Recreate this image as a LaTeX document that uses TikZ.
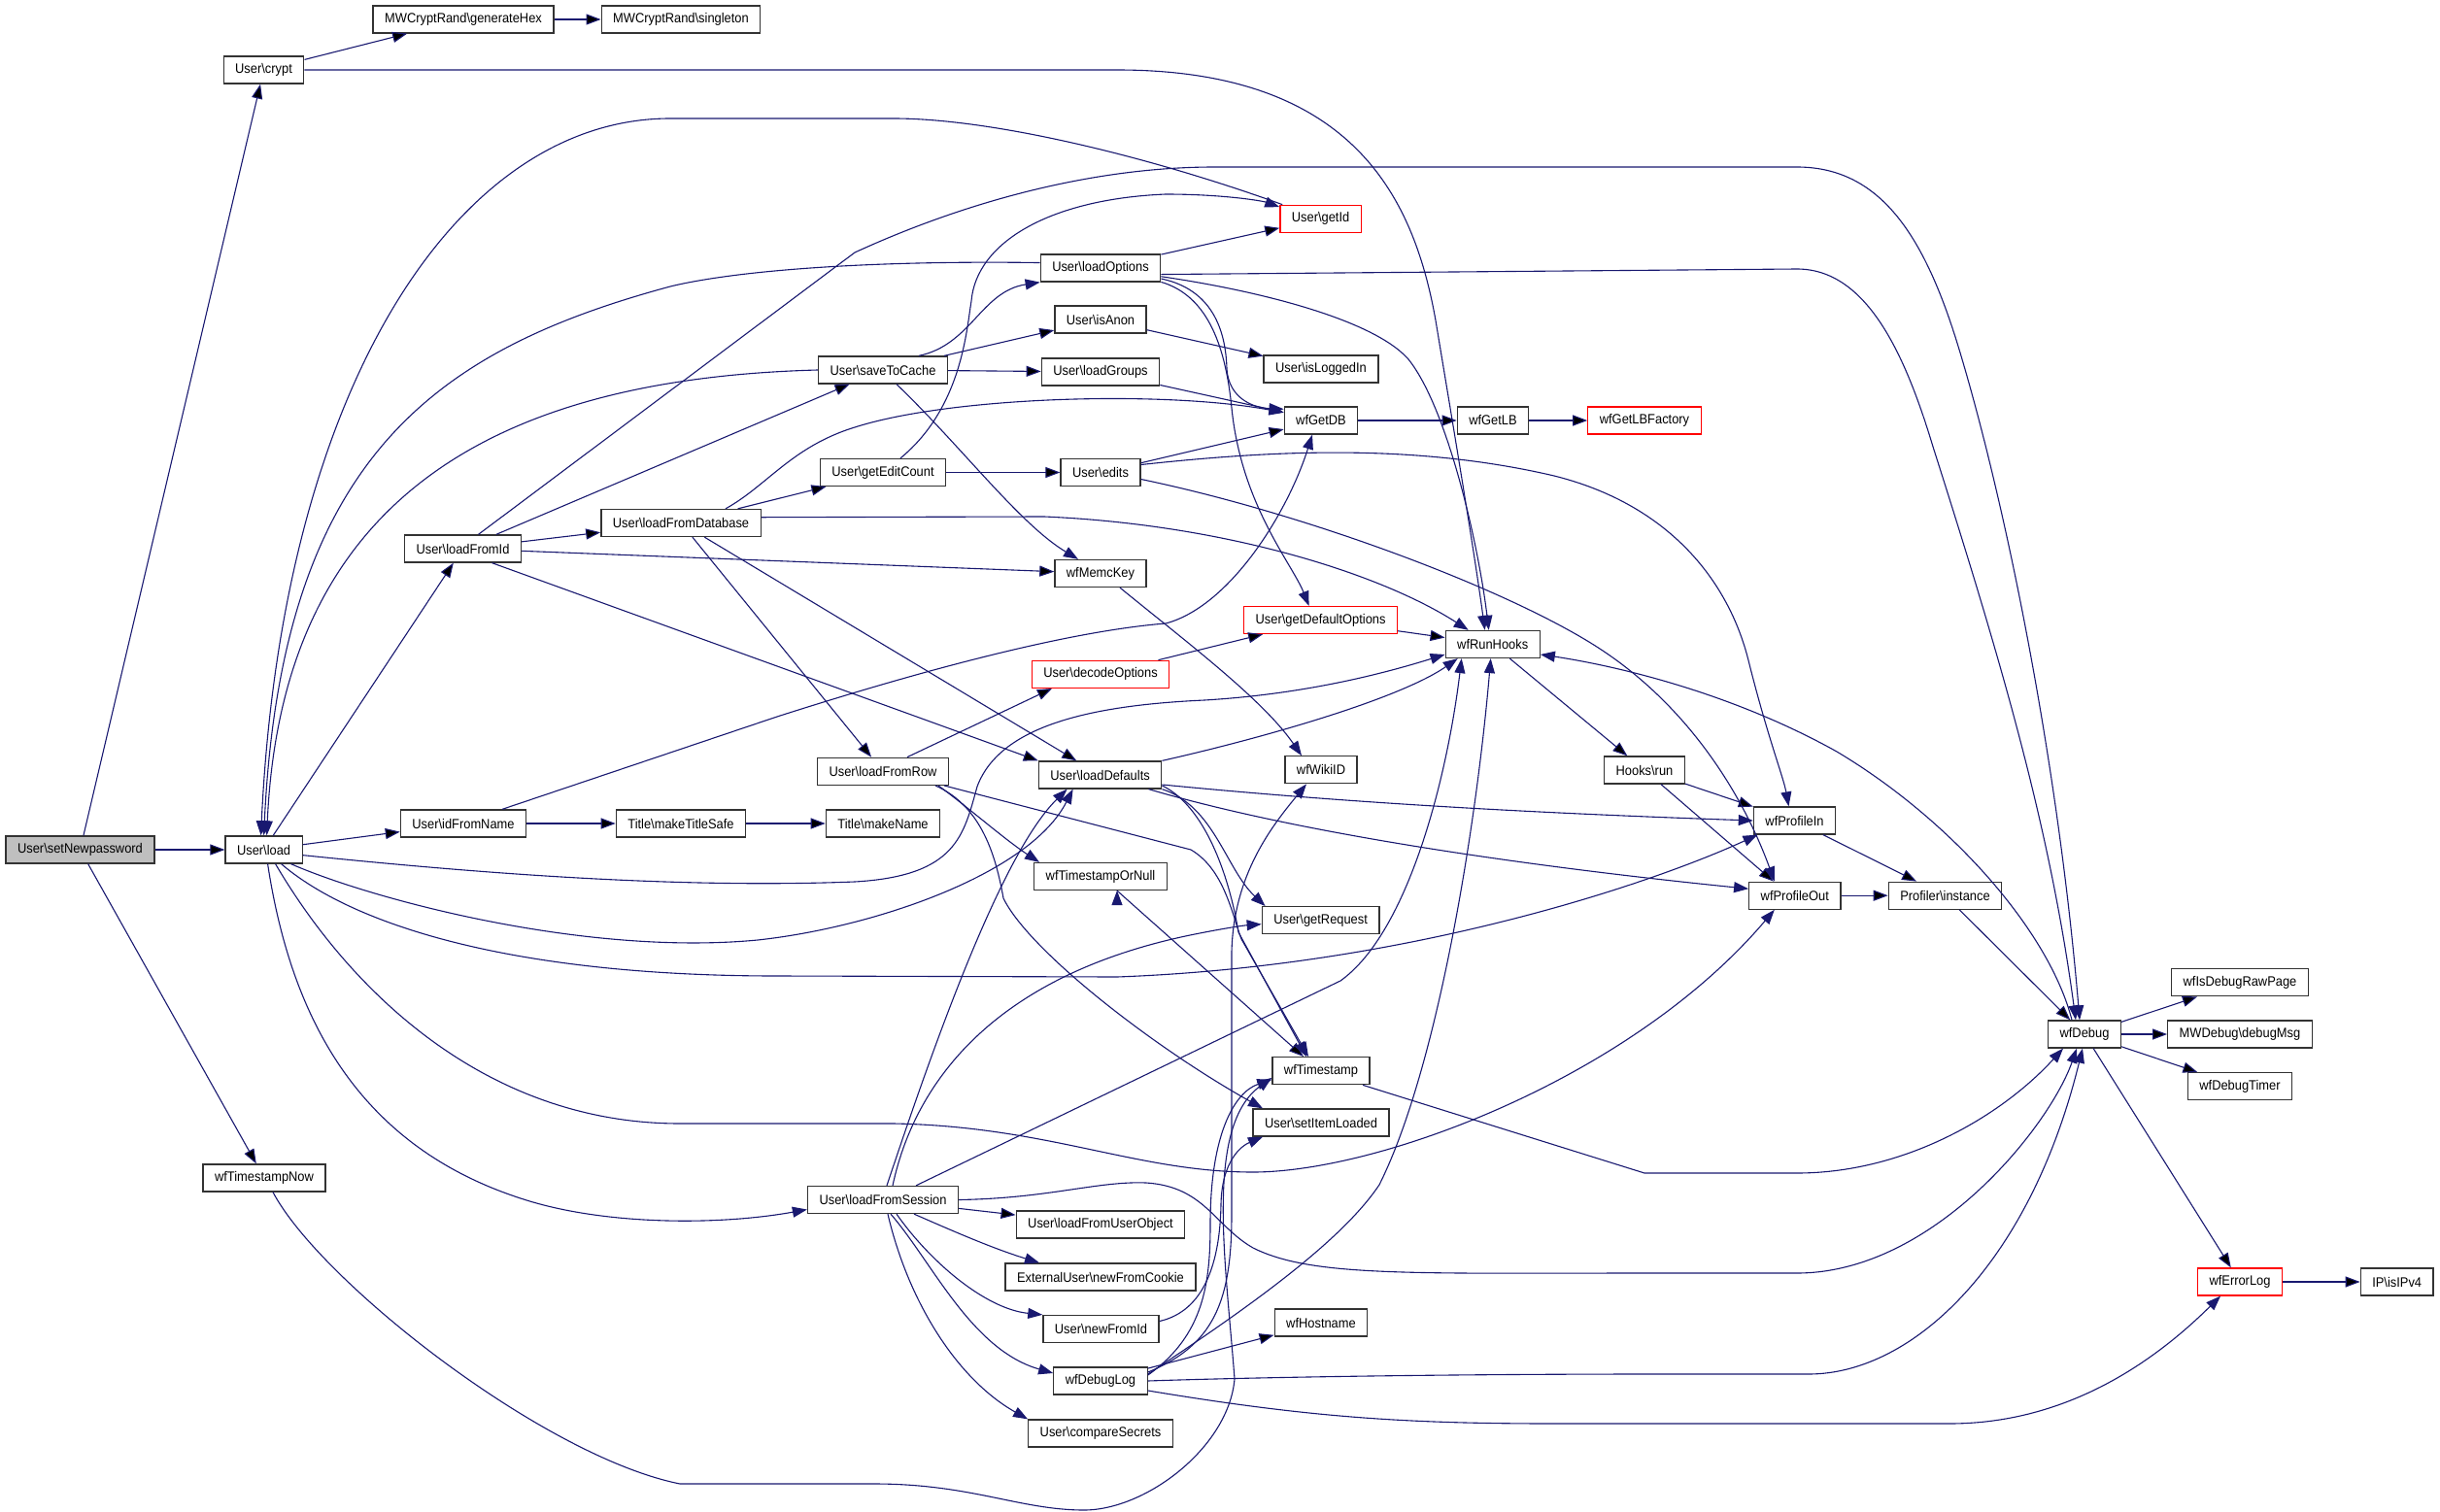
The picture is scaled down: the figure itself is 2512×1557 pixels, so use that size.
\documentclass[tikz,border=0pt]{standalone}
\usepackage{fontspec}
\setmainfont{Liberation Sans}[FakeStretch=0.92]
\usetikzlibrary{arrows.meta}
\definecolor{callblue}{RGB}{25,25,112}
\newcommand{\nsep}{\textbackslash}
\tikzset{
  fn/.style={draw=black!80, line width=1.3pt, fill=white, minimum height=28pt,
    inner xsep=12pt, inner ysep=0pt, font=\fontsize{14}{16}\selectfont},
  fnred/.style={fn, draw=red},
  fnroot/.style={fn, fill=black!25},
  call/.style={draw=callblue, line width=1.1pt, -{Triangle[length=15pt,width=11pt]}},
}
\begin{document}
\begin{tikzpicture}[x=1pt,y=1pt]
\useasboundingbox (0,0) rectangle (2512,-1557);
% functions
\node[fnroot] (setNewpassword) at (82.5,-875) {User\nsep setNewpassword};
\node[fn] (load) at (271.6,-875) {User\nsep load};
\node[fn] (crypt) at (271.5,-72) {User\nsep crypt};
\node[fn] (generateHex) at (477,-20) {MWCryptRand\nsep generateHex};
\node[fn] (singleton) at (701,-20) {MWCryptRand\nsep singleton};
\node[fn] (timestampNow) at (272,-1213) {wfTimestampNow};
\node[fn] (loadFromId) at (476.5,-565) {User\nsep loadFromId};
\node[fn] (idFromName) at (477,-848) {User\nsep idFromName};
\node[fn] (makeTitleSafe) at (701,-848) {Title\nsep makeTitleSafe};
\node[fn] (makeName) at (909,-848) {Title\nsep makeName};
\node[fn] (loadFromDatabase) at (701,-538.5) {User\nsep loadFromDatabase};
\node[fn] (saveToCache) at (909,-381) {User\nsep saveToCache};
\node[fn] (getEditCount) at (909,-486.5) {User\nsep getEditCount};
\node[fn] (loadOptions) at (1133,-276) {User\nsep loadOptions};
\node[fn] (isAnon) at (1133,-329) {User\nsep isAnon};
\node[fn] (loadGroups) at (1133,-383) {User\nsep loadGroups};
\node[fn] (edits) at (1133,-486.5) {User\nsep edits};
\node[fn] (memcKey) at (1133,-590.5) {wfMemcKey};
\node[fnred] (getId) at (1359.6,-225.3) {User\nsep getId};
\node[fn] (isLoggedIn) at (1360,-380) {User\nsep isLoggedIn};
\node[fn] (getDB) at (1360,-433) {wfGetDB};
\node[fn] (getLB) at (1537,-433) {wfGetLB};
\node[fnred] (getLBFactory) at (1693,-433) {wfGetLBFactory};
\node[fnred] (getDefaultOptions) at (1359.6,-638.5) {User\nsep getDefaultOptions};
\node[fn] (runHooks) at (1536.7,-663.5) {wfRunHooks};
\node[fnred] (decodeOptions) at (1133,-694.3) {User\nsep decodeOptions};
\node[fn] (loadFromRow) at (909,-794.3) {User\nsep loadFromRow};
\node[fn] (loadDefaults) at (1132.6,-798) {User\nsep loadDefaults};
\node[fn] (wikiID) at (1360,-792.8) {wfWikiID};
\node[fn] (hooksRun) at (1693,-793) {Hooks\nsep run};
\node[fn] (profileIn) at (1847.5,-845) {wfProfileIn};
\node[fn] (profileOut) at (1847.8,-922.2) {wfProfileOut};
\node[fn] (profilerInstance) at (2002.5,-922.2) {Profiler\nsep instance};
\node[fn] (timestampOrNull) at (1133,-902.5) {wfTimestampOrNull};
\node[fn] (getRequest) at (1359.6,-947.7) {User\nsep getRequest};
\node[fn] (debug) at (2146,-1065) {wfDebug};
\node[fn] (isDebugRawPage) at (2306,-1011.8) {wfIsDebugRawPage};
\node[fn] (debugMsg) at (2306,-1065) {MWDebug\nsep debugMsg};
\node[fn] (debugTimer) at (2306,-1118.7) {wfDebugTimer};
\node[fn] (timestamp) at (1360,-1102.7) {wfTimestamp};
\node[fn] (setItemLoaded) at (1360,-1156) {User\nsep setItemLoaded};
\node[fn] (loadFromSession) at (909,-1235.5) {User\nsep loadFromSession};
\node[fn] (loadFromUserObject) at (1133,-1261) {User\nsep loadFromUserObject};
\node[fn] (newFromCookie) at (1133,-1315) {ExternalUser\nsep newFromCookie};
\node[fn] (newFromId) at (1133.5,-1368.5) {User\nsep newFromId};
\node[fn] (hostname) at (1360,-1362) {wfHostname};
\node[fn] (debugLog) at (1133,-1422) {wfDebugLog};
\node[fn] (compareSecrets) at (1133,-1476) {User\nsep compareSecrets};
\node[fnred] (errorLog) at (2306,-1320) {wfErrorLog};
\node[fn] (isIPv4) at (2467.7,-1320) {IP\nsep isIPv4};
% straight calls
\path[call]
  (setNewpassword) edge (crypt)
  (setNewpassword) edge (load)
  (setNewpassword) edge (timestampNow)
  (crypt) edge (generateHex)
  (generateHex) edge (singleton)
  (load) edge (loadFromId)
  (load) edge (idFromName)
  (loadFromId) edge (saveToCache)
  (loadFromId) edge (loadFromDatabase)
  (loadFromId) edge (memcKey)
  ([xshift=30pt]loadFromId.south) edge (loadDefaults.north west)
  (idFromName) edge (makeTitleSafe)
  (makeTitleSafe) edge (makeName)
  (loadFromDatabase) edge (getEditCount)
  (loadFromDatabase) edge (loadFromRow)
  (loadFromDatabase) edge (loadDefaults)
  (saveToCache) edge (isAnon)
  (saveToCache) edge (loadGroups)
  (getEditCount) edge (edits)
  (loadOptions) edge (getId)
  (isAnon) edge (isLoggedIn)
  (loadGroups) edge (getDB)
  (edits) edge (getDB)
  (getDB) edge (getLB)
  (getLB) edge (getLBFactory)
  (getDefaultOptions) edge (runHooks)
  (decodeOptions) edge (getDefaultOptions)
  ([xshift=25pt]loadFromRow.north) edge ([xshift=-50pt]decodeOptions.south)
  (runHooks) edge (hooksRun)
  (hooksRun) edge (profileIn)
  ([xshift=17pt]hooksRun.south) edge ([xshift=-22pt]profileOut.north)
  (profileIn) edge (profilerInstance)
  (profileOut) edge (profilerInstance)
  (profilerInstance) edge (debug)
  (debug) edge (isDebugRawPage)
  (debug) edge (debugMsg)
  (debug) edge (debugTimer)
  (debug) edge (errorLog)
  (errorLog) edge (isIPv4)
  ([xshift=17pt]timestampOrNull.south) edge ([xshift=-18pt]timestamp.north)
  (loadFromSession) edge (loadFromUserObject)
  (debugLog) edge (hostname);
% curved calls
\draw[call] (crypt.east) -- (1150,-72) .. controls (1390,-72) and (1455,-200) .. (1478,-330) .. controls (1498,-450) and (1518,-570) .. ([xshift=-8pt]runHooks.north);
\draw[call] ([xshift=3pt]getId.north west) .. controls (1180,-160) and (1020,-122) .. (920,-122) -- (690,-122) .. controls (470,-122) and (290,-400) .. ([xshift=-3pt]load.north);
\draw[call] (loadOptions.175) .. controls (900,-268) and (760,-278) .. (690,-295) .. controls (450,-360) and (290,-470) .. (load.north);
\draw[call] (saveToCache.west) .. controls (500,-390) and (290,-520) .. ([xshift=3pt]load.north);
\draw[call] (load.-8) .. controls (500,-900) and (700,-915) .. (880,-908) .. controls (985,-902) and (992,-860) .. (1006,-810) .. controls (1030,-745) and (1130,-726) .. (1240,-721) .. controls (1340,-715) and (1420,-695) .. (runHooks.192);
\draw[call] ([xshift=28pt]load.south) .. controls (380,-925) and (600,-985) .. (780,-968) .. controls (900,-955) and (1060,-900) .. ([xshift=-28pt]loadDefaults.south);
\draw[call] ([xshift=18pt]load.south) .. controls (360,-950) and (520,-1005) .. (800,-1005) -- (1150,-1006) .. controls (1450,-995) and (1700,-910) .. ([xshift=-38pt]profileIn.south);
\draw[call] ([xshift=12pt]load.south) .. controls (360,-1020) and (500,-1157) .. (700,-1157) -- (920,-1157) .. controls (1080,-1160) and (1170,-1207) .. (1290,-1207) .. controls (1420,-1207) and (1680,-1110) .. ([xshift=-21pt]profileOut.south);
\draw[call] ([xshift=4pt]load.south) .. controls (300,-1050) and (370,-1180) .. (536,-1234) .. controls (620,-1262) and (740,-1262) .. ([yshift=-10pt]loadFromSession.west);
\draw[call] ([xshift=16pt]loadFromId.north) -- (880,-260) .. controls (1000,-205) and (1130,-172) .. (1250,-172) -- (1850,-172) .. controls (1940,-172) and (1985,-250) .. (2020,-370) .. controls (2070,-540) and (2120,-800) .. ([xshift=-5pt]debug.north);
\draw[call] ([xshift=40pt]idFromName.north) -- (800,-738) .. controls (950,-690) and (1100,-650) .. (1200,-642) .. controls (1265,-625) and (1325,-530) .. ([xshift=-9pt]getDB.south);
\draw[call] ([xshift=46pt]loadFromDatabase.north) .. controls (790,-500) and (815,-460) .. (880,-440) .. controls (980,-408) and (1200,-402) .. (getDB.168);
\draw[call] (loadFromDatabase.4) -- (1075,-532) .. controls (1260,-540) and (1420,-590) .. ([xshift=-25pt]runHooks.north);
\draw[call] ([xshift=37pt]saveToCache.north) .. controls (1000,-355) and (1010,-300) .. (loadOptions.south west);
\draw[call] ([xshift=14pt]saveToCache.south) .. controls (990,-460) and (1050,-540) .. ([xshift=-23pt]memcKey.north);
\draw[call] ([xshift=18pt]getEditCount.north) .. controls (990,-420) and (995,-340) .. (1000,-310) .. controls (1005,-250) and (1080,-205) .. (1200,-200) .. controls (1260,-200) and (1300,-207) .. (getId.164);
\draw[call] (loadOptions.-6) -- (1850,-277) .. controls (1920,-277) and (1960,-360) .. (1990,-460) .. controls (2060,-680) and (2110,-850) .. ([xshift=-9pt]debug.north);
\draw[call] (loadOptions.-10) .. controls (1248,-298) and (1262,-340) .. (1263,-380) .. controls (1265,-410) and (1290,-420) .. (getDB.163);
\draw[call] (loadOptions.-13) .. controls (1245,-305) and (1262,-360) .. (1268,-420) .. controls (1278,-520) and (1330,-580) .. ([xshift=-12pt]getDefaultOptions.north);
\draw[call] (loadOptions.-8) .. controls (1300,-300) and (1415,-330) .. (1450,-370) .. controls (1490,-420) and (1522,-560) .. ([xshift=-4pt]runHooks.north);
\draw[call] ([yshift=8pt]edits.east) .. controls (1300,-465) and (1450,-455) .. (1600,-490) .. controls (1720,-520) and (1780,-600) .. (1800,-680) .. controls (1820,-760) and (1836,-800) .. ([xshift=-6pt]profileIn.north);
\draw[call] ([yshift=-7pt]edits.east) .. controls (1350,-530) and (1560,-610) .. (1650,-670) .. controls (1740,-730) and (1795,-820) .. ([xshift=-21pt]profileOut.north);
\draw[call] ([xshift=20pt]memcKey.south) .. controls (1220,-660) and (1300,-720) .. ([xshift=-20pt]wikiID.north);
\draw[call] ([xshift=57pt]loadFromRow.south) .. controls (995,-830) and (1035,-865) .. ([xshift=-63pt]timestampOrNull.north);
\draw[call] ([xshift=63pt]loadFromRow.south) -- (1226,-875) .. controls (1260,-895) and (1268,-940) .. (1278,-967) -- ([xshift=-13pt]timestamp.north);
\draw[call] ([xshift=54pt]loadFromRow.south) .. controls (1010,-830) and (1025,-880) .. (1033,-925) .. controls (1060,-980) and (1190,-1080) .. ([xshift=-60pt]setItemLoaded.north);
\draw[call] (loadDefaults.north east) .. controls (1300,-760) and (1440,-720) .. ([xshift=-36pt]runHooks.south);
\draw[call] ([yshift=-10pt]loadDefaults.east) .. controls (1400,-828) and (1600,-838) .. (profileIn.west);
\draw[call] ([xshift=50pt]loadDefaults.south) .. controls (1350,-862) and (1600,-895) .. ([yshift=7pt]profileOut.west);
\draw[call] (loadDefaults.south east) .. controls (1250,-830) and (1262,-895) .. ([xshift=-57pt]getRequest.north);
\draw[call] ([yshift=-11pt]loadDefaults.east) .. controls (1240,-830) and (1265,-900) .. (1275,-960) -- ([xshift=-15pt]timestamp.north);
\draw[call] ([xshift=-13pt]debug.north) .. controls (2110,-960) and (2010,-845) .. (1891,-774) .. controls (1780,-712) and (1660,-685) .. (runHooks.-12);
\draw[call] ([xshift=43pt]timestamp.south) -- (1693,-1208) -- (1850,-1208) .. controls (1960,-1208) and (2060,-1150) .. ([xshift=-22pt]debug.south);
\draw[call] ([xshift=9pt]timestampNow.south) .. controls (330,-1320) and (560,-1500) .. (700,-1528) -- (900,-1528) .. controls (1000,-1528) and (1050,-1555) .. (1116,-1555) .. controls (1180,-1555) and (1265,-1490) .. (1271,-1420) .. controls (1262,-1300) and (1240,-1160) .. (timestamp.188);
\draw[call] ([xshift=32pt]loadFromSession.south) .. controls (975,-1265) and (1020,-1285) .. ([xshift=-63pt]newFromCookie.north);
\draw[call] ([xshift=14pt]loadFromSession.south) .. controls (958,-1300) and (1015,-1348) .. (newFromId.north west);
\draw[call] ([xshift=8pt]loadFromSession.south) .. controls (960,-1300) and (1000,-1390) .. ([yshift=8pt]debugLog.west);
\draw[call] ([xshift=5pt]loadFromSession.south) .. controls (935,-1340) and (985,-1420) .. (compareSecrets.north west);
\draw[call] ([xshift=4pt]loadFromSession.north) .. controls (960,-1080) and (1030,-880) .. ([xshift=-34pt]loadDefaults.south);
\draw[call] ([xshift=10pt]loadFromSession.north) .. controls (945,-1100) and (1040,-1000) .. (1230,-962) .. controls (1260,-956) and (1280,-953) .. ([yshift=-4pt]getRequest.west);
\draw[call] ([xshift=34pt]loadFromSession.north) -- (1380,-1010) .. controls (1450,-960) and (1490,-800) .. ([xshift=-32pt]runHooks.south);
\draw[call] (loadFromSession.east) .. controls (1080,-1234) and (1130,-1216) .. (1180,-1218) .. controls (1240,-1222) and (1250,-1262) .. (1290,-1285) .. controls (1350,-1315) and (1450,-1311) .. (1700,-1311) -- (1850,-1311) .. controls (1990,-1311) and (2110,-1160) .. ([xshift=-8pt]debug.south);
\draw[call] ([yshift=8pt]newFromId.east) .. controls (1240,-1350) and (1256,-1300) .. (1257,-1240) .. controls (1258,-1195) and (1278,-1180) .. ([xshift=-60pt]setItemLoaded.south);
\draw[call] (debugLog.east) .. controls (1300,-1418) and (1500,-1415) .. (1700,-1415) -- (1862,-1415) .. controls (1970,-1415) and (2090,-1300) .. ([xshift=-2pt]debug.south);
\draw[call] ([yshift=-10pt]debugLog.east) .. controls (1350,-1460) and (1450,-1466) .. (1600,-1466) -- (2007,-1466) .. controls (2130,-1466) and (2220,-1400) .. ([xshift=-20pt]errorLog.south);
\draw[call] ([yshift=6pt]debugLog.east) .. controls (1240,-1375) and (1246,-1320) .. (1246,-1260) .. controls (1246,-1170) and (1270,-1125) .. (timestamp.190);
\draw[call] ([yshift=9pt]debugLog.east) .. controls (1250,-1385) and (1268,-1340) .. (1268,-1250) -- (1268,-980) .. controls (1270,-900) and (1310,-850) .. ([xshift=-15pt]wikiID.south);
\draw[call] ([yshift=7pt]debugLog.east) .. controls (1280,-1350) and (1380,-1280) .. (1420,-1220) .. controls (1480,-1100) and (1520,-850) .. ([xshift=-2pt]runHooks.south);
\end{tikzpicture}
\end{document}
